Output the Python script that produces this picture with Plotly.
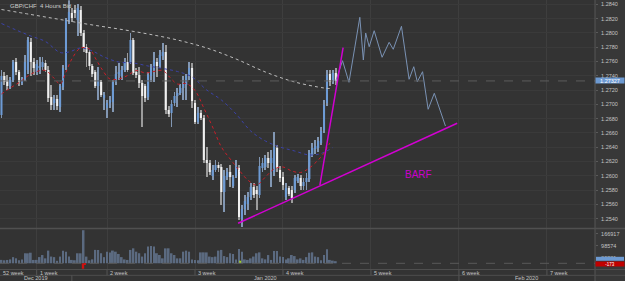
import plotly.graph_objects as go

# ---------------- data ----------------
bars = list(range(115))

open_ = [1.26850,1.27396,1.27340,1.27256,1.27340,1.27592,1.27452,1.27298,1.27354,1.27480,
         1.27872,1.27592,1.27452,1.27508,1.27522,1.27578,1.27480,1.27102,1.27018,1.27074,
         1.26962,1.27242,1.27522,1.28180,1.28278,1.28320,1.28180,1.28320,1.27998,1.27802,
         1.27732,1.27536,1.27452,1.27256,1.27312,1.27088,1.26948,1.27018,1.27032,1.27312,
         1.27424,1.27396,1.27480,1.27592,1.27592,1.27900,1.27452,1.27410,1.27298,1.27256,
         1.27102,1.27396,1.27480,1.27592,1.27536,1.27676,1.27732,1.26920,1.26878,1.27018,
         1.27116,1.27158,1.27228,1.27270,1.27396,1.27508,1.27018,1.26752,1.26878,1.26808,
         1.26220,1.26178,1.25996,1.26080,1.26150,1.26122,1.25772,1.25982,1.26052,1.25856,
         1.25996,1.26108,1.25394,1.25534,1.25604,1.25702,1.25842,1.25800,1.25730,1.26108,
         1.26122,1.26248,1.26178,1.26052,1.26388,1.26080,1.25982,1.25702,1.25828,1.25800,
         1.25800,1.25926,1.25968,1.25856,1.25912,1.25954,1.26290,1.26374,1.26388,1.26458,
         1.26640,1.27018,1.27424,1.27340,1.27438]
high = [1.27480,1.27452,1.27410,1.27382,1.27620,1.27648,1.27480,1.27382,1.27690,1.27942,
        1.27928,1.27648,1.27620,1.27662,1.27662,1.27620,1.27536,1.27270,1.27130,1.27130,
        1.27284,1.27550,1.28208,1.28455,1.28348,1.28390,1.28404,1.28376,1.28040,1.27844,
        1.27760,1.27564,1.27480,1.27522,1.27340,1.27172,1.27060,1.27116,1.27340,1.27536,
        1.27578,1.27536,1.27648,1.27718,1.27998,1.27928,1.27508,1.27522,1.27340,1.27284,
        1.27452,1.27564,1.27732,1.27648,1.27760,1.27858,1.27830,1.26976,1.27060,1.27172,
        1.27228,1.27284,1.27396,1.27424,1.27592,1.27578,1.27060,1.26962,1.26920,1.26850,
        1.26402,1.26220,1.26150,1.26220,1.26192,1.26164,1.26080,1.26108,1.26150,1.26010,
        1.26220,1.26150,1.25590,1.25730,1.25772,1.25898,1.25898,1.25856,1.26262,1.26248,
        1.26290,1.26332,1.26360,1.26612,1.26430,1.26136,1.26052,1.25898,1.25856,1.25856,
        1.26010,1.26024,1.26010,1.25968,1.26038,1.26360,1.26458,1.26500,1.26542,1.26682,
        1.27060,1.27480,1.27480,1.27480,1.27508]
low = [1.26808,1.27270,1.27200,1.27214,1.27312,1.27410,1.27256,1.27270,1.27326,1.27424,
       1.27396,1.27410,1.27410,1.27424,1.27480,1.27452,1.27032,1.26920,1.26920,1.26920,
       1.26892,1.27200,1.27480,1.28124,1.28152,1.28208,1.27956,1.27956,1.27732,1.27522,
       1.27480,1.27382,1.27228,1.27060,1.27102,1.26920,1.26808,1.26948,1.26892,1.27270,
       1.27340,1.27340,1.27452,1.27452,1.27564,1.27410,1.27368,1.27228,1.26682,1.27032,
       1.27060,1.27312,1.27312,1.27382,1.27508,1.27620,1.26864,1.26822,1.26682,1.26976,
       1.26962,1.27130,1.27060,1.27060,1.27340,1.26948,1.26724,1.26724,1.26780,1.26178,
       1.25982,1.26010,1.25940,1.26052,1.26052,1.25590,1.25492,1.25940,1.25842,1.25828,
       1.25968,1.25380,1.25282,1.25450,1.25520,1.25660,1.25688,1.25520,1.25688,1.26052,
       1.26080,1.26108,1.25842,1.25996,1.26052,1.25912,1.25800,1.25660,1.25716,1.25618,
       1.25758,1.25898,1.25800,1.25800,1.25800,1.25912,1.26262,1.26304,1.26332,1.26430,
       1.26598,1.26976,1.27256,1.27284,1.27270]
close = [1.27396,1.27312,1.27256,1.27340,1.27592,1.27452,1.27312,1.27354,1.27592,1.27900,
         1.27592,1.27508,1.27564,1.27536,1.27592,1.27480,1.27088,1.26990,1.27074,1.26976,
         1.27256,1.27508,1.28180,1.28292,1.28208,1.28278,1.28348,1.27998,1.27788,1.27718,
         1.27536,1.27424,1.27256,1.27340,1.27130,1.27130,1.27018,1.27060,1.27312,1.27424,
         1.27452,1.27480,1.27592,1.27480,1.27900,1.27438,1.27410,1.27298,1.27116,1.27088,
         1.27410,1.27508,1.27620,1.27536,1.27690,1.27732,1.26920,1.26864,1.27004,1.27116,
         1.27158,1.27228,1.27284,1.27396,1.27508,1.27046,1.26752,1.26878,1.26808,1.26220,
         1.26178,1.26052,1.26080,1.26150,1.26108,1.25772,1.25996,1.26052,1.25982,1.25982,
         1.26136,1.25422,1.25534,1.25646,1.25702,1.25842,1.25730,1.25744,1.26136,1.26178,
         1.26248,1.26178,1.26248,1.26402,1.26108,1.25968,1.25870,1.25828,1.25744,1.25688,
         1.25968,1.25982,1.25856,1.25912,1.25968,1.26318,1.26388,1.26416,1.26486,1.26626,
         1.26990,1.27410,1.27312,1.27438,1.27327]
volume = [19400,17200,19100,22300,35100,28400,17300,22100,57200,56800,
          60300,19200,19500,35400,47100,28200,72300,38400,35200,14100,
          38300,72100,66400,38200,19300,17400,57100,56900,188400,38100,
          17200,22400,76300,75900,57300,35100,66200,62100,72400,66300,
          53200,35300,22100,19200,76100,85300,66200,57400,38300,57100,
          95200,98400,95100,57300,47200,28300,85100,85400,57200,47300,
          28100,28400,66300,72100,66200,22300,19100,17300,62200,62400,
          62100,38300,35200,38100,72300,76200,41100,35400,57200,53100,
          22300,82100,66400,22200,19300,28100,38400,57200,62300,28200,
          22400,47100,19200,70300,70100,38200,35300,22100,28400,47300,
          41200,22300,28100,19400,35200,60100,62300,38200,35100,17300,
          47200,80100,19300,15200,12100]

ma_long_bars = [0, 10, 20, 30, 40, 50, 60, 70, 80, 90, 100, 110, 112]
ma_long = [1.28327,1.28257,1.28187,1.28117,1.28054,1.27984,1.27900,1.27788,1.27634,
           1.27452,1.27312,1.27228,1.27221]
ma_mid_bars = [0,5,10,15,20,23,27,31,35,40,45,50,55,60,65,70,75,80,85,90,95,100,105,109,113]
ma_mid = [1.28131,1.28040,1.27956,1.27879,1.27725,1.27732,1.27788,1.27746,1.27662,1.27592,
          1.27578,1.27536,1.27501,1.27459,1.27382,1.27200,1.27060,1.26864,1.26626,1.26486,
          1.26402,1.26346,1.26290,1.26311,1.26395]
ma_fast_bars = [0,3,6,9,12,15,18,20,22,24,27,30,32,34,37,40,43,46,49,52,55,57,60,63,66,69,
                72,75,78,81,84,87,90,93,96,99,102,105,108,110,112]
ma_fast = [1.27144,1.27228,1.27305,1.27396,1.27459,1.27473,1.27361,1.27284,1.27452,1.27634,
           1.27788,1.27774,1.27648,1.27508,1.27354,1.27354,1.27403,1.27473,1.27438,1.27459,
           1.27473,1.27396,1.27284,1.27291,1.27193,1.26948,1.26682,1.26402,1.26234,1.26080,
           1.25940,1.25870,1.25982,1.26094,1.26122,1.26066,1.26045,1.26108,1.26220,1.26318,
           1.26458]

proj_x = [114,116.3,118.5,122.2,123.4,124.2,125.4,127.1,129.8,132.2,133.6,136.4,139.0,
          140.6,141.8,143.6,145.5,147.6,151.4]
proj_y = [1.27327,1.27610,1.27308,1.28218,1.27620,1.27998,1.27806,1.28030,1.27658,1.27868,
          1.27770,1.28092,1.27350,1.27526,1.27316,1.27456,1.26930,1.27154,1.26696]

trend1_x = [80.7, 155.4]
trend1_y = [1.25334, 1.26734]
trend2_x = [108.6, 116.5]
trend2_y = [1.25870, 1.27792]
barf_x, barf_y, barf_text = 136.8, 1.26024, "BARF"

price_ticks = [1.2540,1.2560,1.2580,1.2600,1.2620,1.2640,1.2660,1.2680,1.2700,1.2720,
               1.2740,1.2760,1.2780,1.2800,1.2820,1.2840]
vol_ticks = [30231, 98574, 166917]
week_labels = ["52 week","1 week","2 week","3 week","4 week","5 week","6 week","7 week"]
week_start = [-18, 12, 36, 66, 96, 126, 156, 186]
month_labels = ["Dec 2019","Jan 2020","Feb 2020"]
month_start = [-60, 24, 156]
osc_value = "-173"
title_text = "GBP/CHF  4 Hours Bid"
event_bar_red, event_bar_green = 27.8, 81.4

# ---------------- layout constants ----------------
W, H = 625, 281
X0, X1 = -0.5, 202.4
XD = 595 / W
MAIN_BOT = 1 - 228 / H
VOL_DOM = [1 - 269 / H, 1 - 229 / H]
Y_RANGE = [1.25268, 1.28460]
V_RANGE = [-32460, 195340]
FONT = "Liberation Sans, Arial, sans-serif"
BG = "#333333"
UP, DN = "#6d9bd5", "#f0f0f0"

fig = go.Figure()

up = [c >= o for o, c in zip(open_, close)]
wick_col = ["#8297b3" if u else "#9c9c9c" for u in up]
body_col = [UP if u else DN for u in up]

fig.add_trace(go.Bar(x=bars, y=[h - l for h, l in zip(high, low)], base=low, width=0.3,
                     marker=dict(color=wick_col, line=dict(width=0)), hoverinfo="skip"))
fig.add_trace(go.Bar(x=bars, y=[max(abs(c - o), 0.00006) for o, c in zip(open_, close)],
                     base=[min(o, c) for o, c in zip(open_, close)], width=0.7,
                     marker=dict(color=body_col, line=dict(width=0)), hoverinfo="skip"))

fig.add_trace(go.Scatter(x=ma_long_bars, y=ma_long, mode="lines", line_shape="spline",
                         line=dict(color="#bdbdbd", width=1, dash="dot")))
fig.add_trace(go.Scatter(x=ma_mid_bars, y=ma_mid, mode="lines", line_shape="spline",
                         line=dict(color="#3b42a8", width=1, dash="dot")))
fig.add_trace(go.Scatter(x=ma_fast_bars, y=ma_fast, mode="lines", line_shape="spline",
                         line=dict(color="#c81e28", width=1, dash="dot")))

fig.add_trace(go.Scatter(x=proj_x, y=proj_y, mode="lines",
                         line=dict(color="#7a92b4", width=1)))
for tx, ty in ((trend1_x, trend1_y), (trend2_x, trend2_y)):
    fig.add_trace(go.Scatter(x=tx, y=ty, mode="lines", line=dict(color="#d200d2", width=1.5)))

# volume
fig.add_trace(go.Bar(x=bars, y=volume, width=0.62, xaxis="x2", yaxis="y2",
                     marker=dict(color="#5b6a80", line=dict(width=0))))
fig.add_trace(go.Bar(x=[event_bar_red], y=[30000], base=[-31000], width=0.8,
                     xaxis="x2", yaxis="y2", marker=dict(color="#d01010", line=dict(width=0))))
fig.add_trace(go.Bar(x=[event_bar_red + 0.6], y=[5000], base=[-6000], width=0.8,
                     xaxis="x2", yaxis="y2", marker=dict(color="#d01010", line=dict(width=0))))
fig.add_trace(go.Bar(x=[event_bar_green], y=[15000], base=[0], width=0.7,
                     xaxis="x2", yaxis="y2", marker=dict(color="#a0cc30", line=dict(width=0))))

grid_bars = [b for b in week_start if X0 < b < X1]
tickfont = dict(family=FONT, size=5.5, color="#c4c4c4")

fig.update_layout(
    width=W, height=H, margin=dict(l=0, r=0, t=0, b=0),
    paper_bgcolor=BG, plot_bgcolor=BG, showlegend=False, barmode="overlay",
    xaxis=dict(domain=[0, XD], range=[X0, X1], anchor="y", showticklabels=False,
               tickvals=grid_bars, showgrid=True, gridcolor="#3e3e3e", gridwidth=1,
               zeroline=False, showline=False, ticks=""),
    yaxis=dict(domain=[MAIN_BOT, 1], range=Y_RANGE, anchor="x", side="right",
               tickvals=price_ticks, ticktext=[f"{t:.4f}" for t in price_ticks],
               tickfont=tickfont, showgrid=True, gridcolor="#3a3a3a", zeroline=False,
               ticks="outside", ticklen=2, tickcolor="#5a5a5a", ticklabelstandoff=2),
    xaxis2=dict(domain=[0, XD], range=[X0, X1], anchor="y2", showticklabels=False,
                tickvals=grid_bars, showgrid=True, gridcolor="#3e3e3e", zeroline=False,
                ticks=""),
    yaxis2=dict(domain=VOL_DOM, range=V_RANGE, anchor="x2", side="right",
                tickvals=vol_ticks, ticktext=[str(v) for v in vol_ticks], tickfont=tickfont,
                showgrid=False, zeroline=False, ticks="outside", ticklen=2,
                tickcolor="#5a5a5a", ticklabelstandoff=2),
)

def py(p):
    return 1 - p / H

shapes = [
    dict(type="rect", xref="paper", yref="paper", x0=XD, x1=1, y0=0, y1=1,
         fillcolor="#383838", line=dict(width=0), layer="below"),
    dict(type="line", xref="paper", yref="paper", x0=XD, x1=XD, y0=0, y1=1,
         line=dict(color="#575757", width=1)),
    dict(type="line", xref="paper", yref="paper", x0=0, x1=1, y0=py(228.5), y1=py(228.5),
         line=dict(color="#505050", width=1.5)),
    dict(type="line", xref="paper", yref="paper", x0=0, x1=1, y0=py(269.5), y1=py(269.5),
         line=dict(color="#4e4e4e", width=1)),
    dict(type="line", xref="paper", yref="paper", x0=0, x1=1, y0=py(275.3), y1=py(275.3),
         line=dict(color="#4e4e4e", width=1)),
    dict(type="line", xref="paper", yref="y", x0=0, x1=XD, y0=close[-1], y1=close[-1],
         line=dict(color="#5c5c5c", width=1, dash="dash")),
    dict(type="line", xref="paper", yref="y2", x0=0, x1=XD, y0=0, y1=0,
         line=dict(color="#595959", width=1, dash="dash")),
    # current-volume marker box on the volume scale
    dict(type="rect", xref="paper", yref="paper", x0=XD + 1 / W, x1=1 - 1 / W,
         y0=py(260.8), y1=py(256.8), fillcolor="#6d9ad2", line=dict(width=0), layer="above"),
]
for b in grid_bars:
    shapes.append(dict(type="line", xref="x", yref="paper", x0=b, x1=b, y0=py(275.3), y1=py(269.5),
                       line=dict(color="#555555", width=1)))
for b in month_start:
    if X0 < b < X1:
        shapes.append(dict(type="line", xref="x", yref="paper", x0=b, x1=b, y0=0, y1=py(275.3),
                           line=dict(color="#555555", width=1)))
fig.update_layout(shapes=shapes)

ann = []
lab_font = dict(family=FONT, size=5.5, color="#c4c4c4")
for lbl, s in zip(week_labels, week_start):
    if s < X1:
        ann.append(dict(x=max(s, X0) + 0.4, y=py(272.6), xref="x", yref="paper", text=lbl,
                        xanchor="left", yanchor="middle", showarrow=False, font=lab_font))
for i, lbl in enumerate(month_labels):
    a = max(month_start[i], X0)
    b = min(month_start[i + 1], X1) if i + 1 < len(month_start) else X1
    ann.append(dict(x=(a + b) / 2, y=py(278.4), xref="x", yref="paper", text=lbl,
                    xanchor="center", yanchor="middle", showarrow=False, font=lab_font))
ann.append(dict(x=8 / W, y=py(6), xref="paper", yref="paper", text=title_text,
                xanchor="left", yanchor="middle", showarrow=False,
                font=dict(family=FONT, size=6, color="#cccccc")))
ann.append(dict(x=barf_x, y=barf_y, xref="x", yref="y", text=barf_text, xanchor="left",
                yanchor="middle", showarrow=False,
                font=dict(family=FONT, size=10, color="#cc00cc")))
ann.append(dict(x=XD, y=close[-1], xref="paper", yref="y", text=f"{close[-1]:.5f}",
                xanchor="left", yanchor="middle", showarrow=False, width=28, height=5,
                bgcolor="#6d9ad2", borderpad=0, align="center",
                font=dict(family=FONT, size=5.5, color="#ffffff")))
ann.append(dict(x=XD, y=py(263.6), xref="paper", yref="paper", text=osc_value,
                xanchor="left", yanchor="middle", showarrow=False, width=28, height=4,
                bgcolor="#c00000", borderpad=0, align="center",
                font=dict(family=FONT, size=4.5, color="#ffffff")))
fig.update_layout(annotations=ann)

fig.write_html("out.html")
